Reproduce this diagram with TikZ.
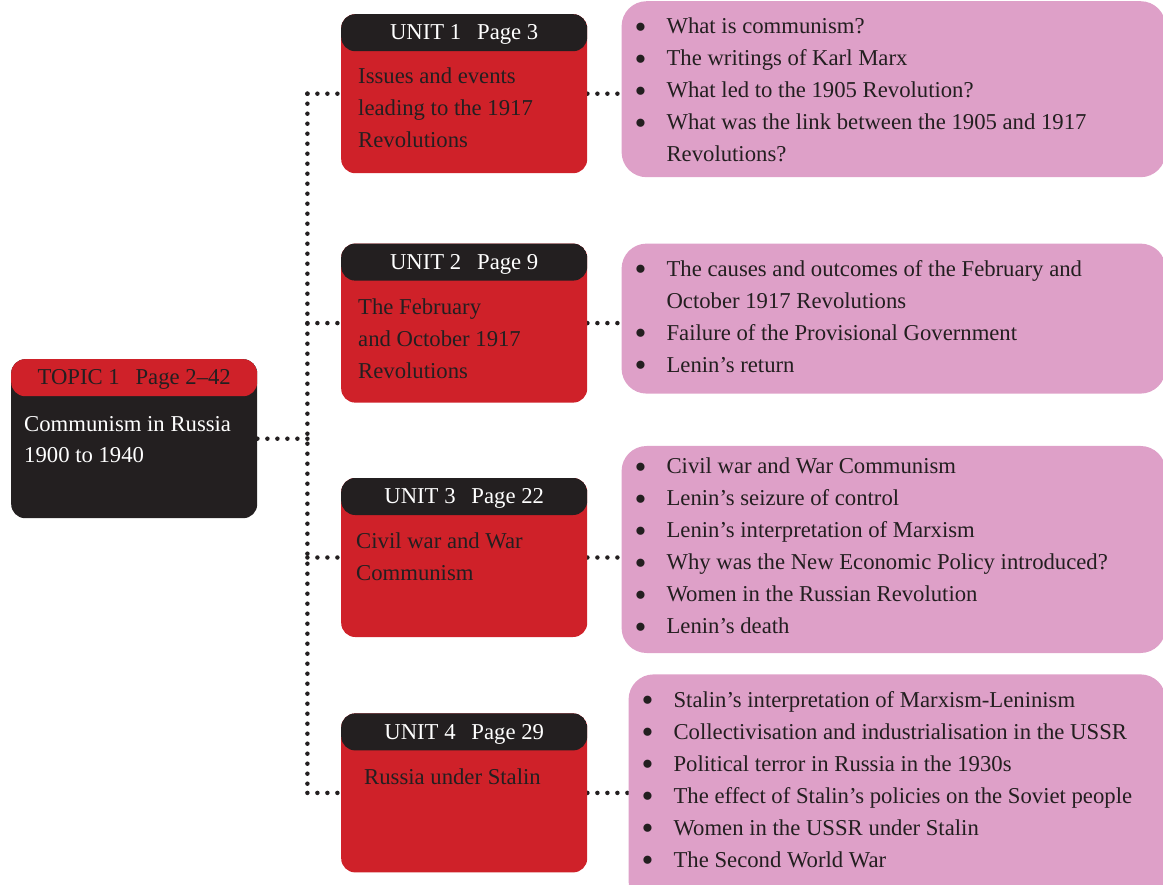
\documentclass[tikz,border=0pt]{standalone}
\usepackage{fontspec}
\setmainfont{Liberation Serif}
\usepackage{graphicx}
\usepackage{tikz}
\usetikzlibrary{positioning, backgrounds}
\definecolor{unitred}{RGB}{207, 33, 41}
\definecolor{inkblack}{RGB}{35, 31, 32}
\definecolor{notepink}{RGB}{222, 160, 200}
\newcommand{\bul}{\makebox[32pt][l]{\raisebox{-4.5pt}{\scalebox{1.5}{\textbullet}}}}
\newcommand{\bulgap}{\hspace*{32pt}}

\begin{document}
\begin{tikzpicture}[
    x=1pt, y=-1pt,
    card/.style={rectangle, rounded corners=14pt, minimum width=246pt, minimum height=159pt, inner sep=0pt},
    unitbox/.style={card, fill=unitred, path picture={\fill[inkblack] (path picture bounding box.north west) rectangle ([yshift=-37pt]path picture bounding box.north east);}},
    topicbox/.style={card, fill=inkblack, path picture={\fill[unitred] (path picture bounding box.north west) rectangle ([yshift=-37pt]path picture bounding box.north east);}},
    notebox/.style={rectangle, rounded corners=25pt, fill=notepink, minimum width=544pt, inner sep=0pt},
    headtext/.style={font=\fontsize{22.7}{26}\selectfont, inner sep=0pt, anchor=base},
    bodytext/.style={font=\fontsize{22.7}{32}\selectfont, align=left, inner sep=0pt, anchor=base west, text=inkblack},
    dotline/.style={inkblack, line width=4.5pt, line cap=round, dash pattern=on 0pt off 10pt}
]
    \useasboundingbox (0,0) rectangle (1163,885);

    % topic card
    \node[topicbox, anchor=north west] (topic) at (11,359) {};
    \node[headtext, text=inkblack] (topich) at ([yshift=-26pt]topic.north) {TOPIC 1\hspace{0.7em}Page 2--42};
    % base anchor sits on the last line
    \node[bodytext, text=white] (topict) at ([shift={(13pt,-104pt)}]topic.north west) {Communism in Russia\\1900 to 1940};

    % unit cards
    \node[unitbox, anchor=north west] (u1) at (341,14) {};
    \node[unitbox, below=70pt of u1] (u2) {};
    \node[unitbox, below=75pt of u2] (u3) {};
    \node[unitbox, below=76pt of u3] (u4) {};

    \node[headtext, text=white] (h1) at ([yshift=-26pt]u1.north) {UNIT 1\hspace{0.7em}Page 3};
    \node[headtext, text=white] (h2) at ([yshift=-26pt]u2.north) {UNIT 2\hspace{0.7em}Page 9};
    \node[headtext, text=white] (h3) at ([yshift=-26pt]u3.north) {UNIT 3\hspace{0.7em}Page 22};
    \node[headtext, text=white] (h4) at ([yshift=-26pt]u4.north) {UNIT 4\hspace{0.7em}Page 29};

    \node[bodytext] (t1) at ([shift={(17pt,-134pt)}]u1.north west) {Issues and events\\leading to the 1917\\Revolutions};
    \node[bodytext] (t2) at ([shift={(17pt,-135pt)}]u2.north west) {The February\\and October 1917\\Revolutions};
    \node[bodytext] (t3) at ([shift={(15pt,-103pt)}]u3.north west) {Civil war and War\\Communism};
    \node[bodytext] (t4) at ([shift={(23pt,-71pt)}]u4.north west) {Russia under Stalin};

    % note boxes
    \node[notebox, minimum height=176pt, right=34pt of u1, yshift=4.5pt] (n1) {};
    \node[notebox, minimum height=150pt, right=34pt of u2, yshift=4.5pt] (n2) {};
    \node[notebox, minimum height=207pt, right=34pt of u3, yshift=8pt] (n3) {};
    \node[notebox, minimum height=232pt, minimum width=537pt, right=41pt of u4, yshift=2.5pt] (n4) {};

    \node[bodytext] (l1) at ([shift={(13pt,-161pt)}]n1.north west) {\bul What is communism?\\
        \bul The writings of Karl Marx\\
        \bul What led to the 1905 Revolution?\\
        \bul What was the link between the 1905 and 1917\\
        \bulgap Revolutions?};
    \node[bodytext] (l2) at ([shift={(13pt,-129pt)}]n2.north west) {\bul The causes and outcomes of the February and\\
        \bulgap October 1917 Revolutions\\
        \bul Failure of the Provisional Government\\
        \bul Lenin’s return};
    \node[bodytext] (l3) at ([shift={(13pt,-188pt)}]n3.north west) {\bul Civil war and War Communism\\
        \bul Lenin’s seizure of control\\
        \bul Lenin’s interpretation of Marxism\\
        \bul Why was the New Economic Policy introduced?\\
        \bul Women in the Russian Revolution\\
        \bul Lenin’s death};
    \node[bodytext] (l4) at ([shift={(13pt,-193pt)}]n4.north west) {\bul Stalin’s interpretation of Marxism-Leninism\\
        \bul Collectivisation and industrialisation in the USSR\\
        \bul Political terror in Russia in the 1930s\\
        \bul The effect of Stalin’s policies on the Soviet people\\
        \bul Women in the USSR under Stalin\\
        \bul The Second World War};

    % dotted connectors
    \begin{scope}[on background layer]
        \coordinate (trunk) at ([xshift=50pt]topic.east);
        \draw[dotline] (topic.east) -- (trunk);
        \draw[dotline] (trunk |- u1.west) -- (trunk |- u4.west);
        \draw[dotline] (trunk |- u1.west) -- (u1.west);
        \draw[dotline] (trunk |- u2.west) -- (u2.west);
        \draw[dotline] (trunk |- u3.west) -- (u3.west);
        \draw[dotline] (trunk |- u4.west) -- (u4.west);
        \draw[dotline] (u1.east) -- (n1.west |- u1.east);
        \draw[dotline] (u2.east) -- (n2.west |- u2.east);
        \draw[dotline] (u3.east) -- (n3.west |- u3.east);
        \draw[dotline] (u4.east) -- (n4.west |- u4.east);
    \end{scope}
\end{tikzpicture}
\end{document}
